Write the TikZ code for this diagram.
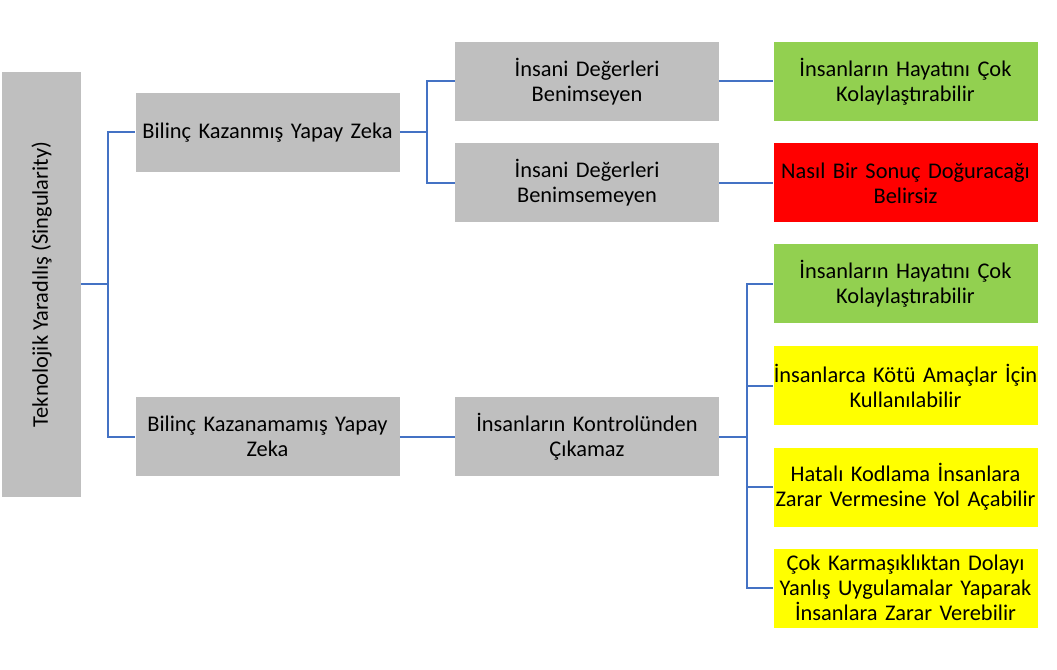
\documentclass[tikz,border=0pt]{standalone}
\usepackage{fontspec}
\setmainfont{Carlito}
\definecolor{boxgray}{HTML}{BFBFBF}
\definecolor{boxgreen}{HTML}{92D050}
\definecolor{boxred}{HTML}{FF0000}
\definecolor{boxyellow}{HTML}{FFFF00}
\definecolor{linkblue}{HTML}{4472C4}
\begin{document}
\begin{tikzpicture}[x=0.75pt,y=-0.75pt,
  every node/.style={font=\fontsize{16.8}{18.75}\selectfont, align=center, inner sep=0pt},
  card/.style={minimum width=198pt, minimum height=59.25pt, text width=198pt},
  graycard/.style={card, fill=boxgray},
  greencard/.style={card, fill=boxgreen},
  redcard/.style={card, fill=boxred},
  yellowcard/.style={card, fill=boxyellow},
  link/.style={draw=linkblue, line width=1.5pt}]
\useasboundingbox (0,0) rectangle (1057,670);
\node[fill=boxgray, minimum width=59.25pt, minimum height=318.75pt] (root) at (41.5,284.5) {};
\node[rotate=90] (roottext) at (root.center) {Teknolojik Yaradılış (Singularity)};
\node[graycard] (b1) at (267.5,132.5) {Bilinç Kazanmış Yapay Zeka};
\node[graycard] (b2) at (267.5,436.5) {Bilinç Kazanamamış Yapay\\Zeka};
\node[graycard] (d1) at (587,81.5) {İnsani Değerleri\\Benimseyen};
\node[graycard] (d2) at (587,183) {İnsani Değerleri\\Benimsemeyen};
\node[graycard] (c) at (587,436.5) {İnsanların Kontrolünden\\Çıkamaz};
\node[greencard] (g1) at (905.5,81.5) {İnsanların Hayatını Çok\\Kolaylaştırabilir};
\node[redcard] (r) at (905.5,183) {Nasıl Bir Sonuç Doğuracağı\\Belirsiz};
\node[greencard] (g2) at (905.5,284) {İnsanların Hayatını Çok\\Kolaylaştırabilir};
\node[yellowcard] (y1) at (905.5,385.5) {İnsanlarca Kötü Amaçlar İçin\\Kullanılabilir};
\node[yellowcard] (y2) at (905.5,487) {Hatalı Kodlama İnsanlara\\Zarar Vermesine Yol Açabilir};
\node[yellowcard] (y3) at (905.5,588) {Çok Karmaşıklıktan Dolayı\\Yanlış Uygulamalar Yaparak\\İnsanlara Zarar Verebilir};
\coordinate (j0) at (108,284.5);
\coordinate (j1) at (427,132.5);
\coordinate (j2) at (747,436.5);
\draw[link] (root.east) -- (j0);
\draw[link] (j0) |- (b1.west);
\draw[link] (j0) |- (b2.west);
\draw[link] (b1.east) -- (j1);
\draw[link] (j1) |- (d1.west);
\draw[link] (j1) |- (d2.west);
\draw[link] (b2.east) -- (c.west);
\draw[link] (d1.east) -- (g1.west);
\draw[link] (d2.east) -- (r.west);
\draw[link] (c.east) -- (j2);
\draw[link] (j2) |- (g2.west);
\draw[link] (j2) |- (y1.west);
\draw[link] (j2) |- (y2.west);
\draw[link] (j2) |- (y3.west);
\end{tikzpicture}
\end{document}
